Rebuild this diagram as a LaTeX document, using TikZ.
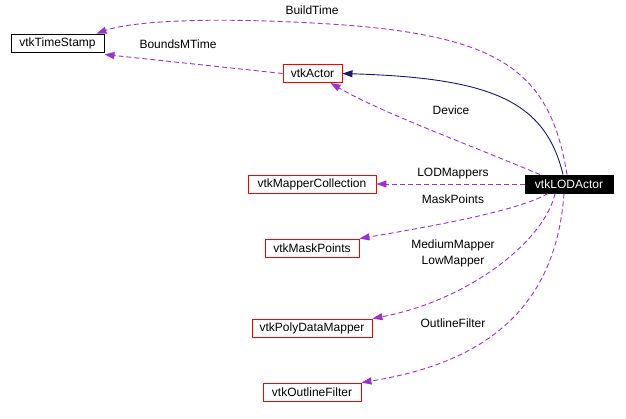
\documentclass[tikz,border=0pt]{standalone}
\usepackage{fontspec}
\setmainfont{Liberation Sans}
\usetikzlibrary{arrows.meta}
\definecolor{edgepurple}{HTML}{9A32CD}
\definecolor{edgenavy}{HTML}{191970}
\begin{document}
\begin{tikzpicture}[x=1pt,y=-1pt,
  font=\fontsize{12}{14}\selectfont,
  cls/.style={draw=black,line width=0.9pt,minimum height=18pt,inner sep=0pt,anchor=center,fill=white},
  redcls/.style={cls,draw=red},
  main/.style={cls,fill=black,text=white,draw=black},
  use/.style={draw=edgepurple,line width=0.9pt,dash pattern=on 5pt off 3pt,
    -{Triangle[length=10pt,width=7pt,fill=edgepurple]}},
  inh/.style={draw=edgenavy,line width=0.9pt,-{Triangle[length=10pt,width=7pt,fill=edgenavy]}},
  lbl/.style={inner sep=0pt}]
\useasboundingbox (0,0) rectangle (626,418);
\node[cls,minimum width=93pt] (ts) at (57.5,43) {vtkTimeStamp};
\node[redcls,minimum width=59pt] (actor) at (312.5,73.5) {vtkActor};
\node[main,minimum width=88pt] (lod) at (569,184) {vtkLODActor};
\node[redcls,minimum width=128pt] (mc) at (312,184) {vtkMapperCollection};
\node[redcls,minimum width=94pt] (mask) at (312,248) {vtkMaskPoints};
\node[redcls,minimum width=120pt] (pdm) at (312,328) {vtkPolyDataMapper};
\node[redcls,minimum width=98pt] (of) at (312,392) {vtkOutlineFilter};

\node[lbl] (lbt) at (312,10) {BuildTime};
\node[lbl] (lbm) at (178,44) {BoundsMTime};
\node[lbl] (ldev) at (451,110) {Device};
\node[lbl] (llod) at (453,174) {LODMappers};
\node[lbl] (lmask) at (453,199) {MaskPoints};
\node[lbl] (lmed) at (453,245) {MediumMapper};
\node[lbl] (llow) at (453,262) {LowMapper};
\node[lbl] (lof) at (453,323) {OutlineFilter};

\draw[inh] ([xshift=-6pt]lod.north) .. controls (545,100) and (490,78) .. (actor.east);
\draw[use] ([xshift=-2pt]lod.north) .. controls (550,70) and (500,35) .. (330,24)
  .. controls (200,16) and (130,22) .. ([xshift=-8pt]ts.north east);
\draw[use] (actor.west) -- ([yshift=-2pt]ts.south east);
\draw[use] ([xshift=-29pt]lod.north) .. controls (470,145) and (380,112) .. ([xshift=18pt]actor.south);
\draw[use] (lod.west) -- (mc.east);
\draw[use] ([xshift=-21pt]lod.south) .. controls (520,210) and (440,225) .. (mask.north east);
\draw[use] ([xshift=-14pt]lod.south) .. controls (545,240) and (470,300) .. (pdm.north east);
\draw[use] ([xshift=-5pt]lod.south) .. controls (555,320) and (470,365) .. (of.north east);
\end{tikzpicture}
\end{document}
